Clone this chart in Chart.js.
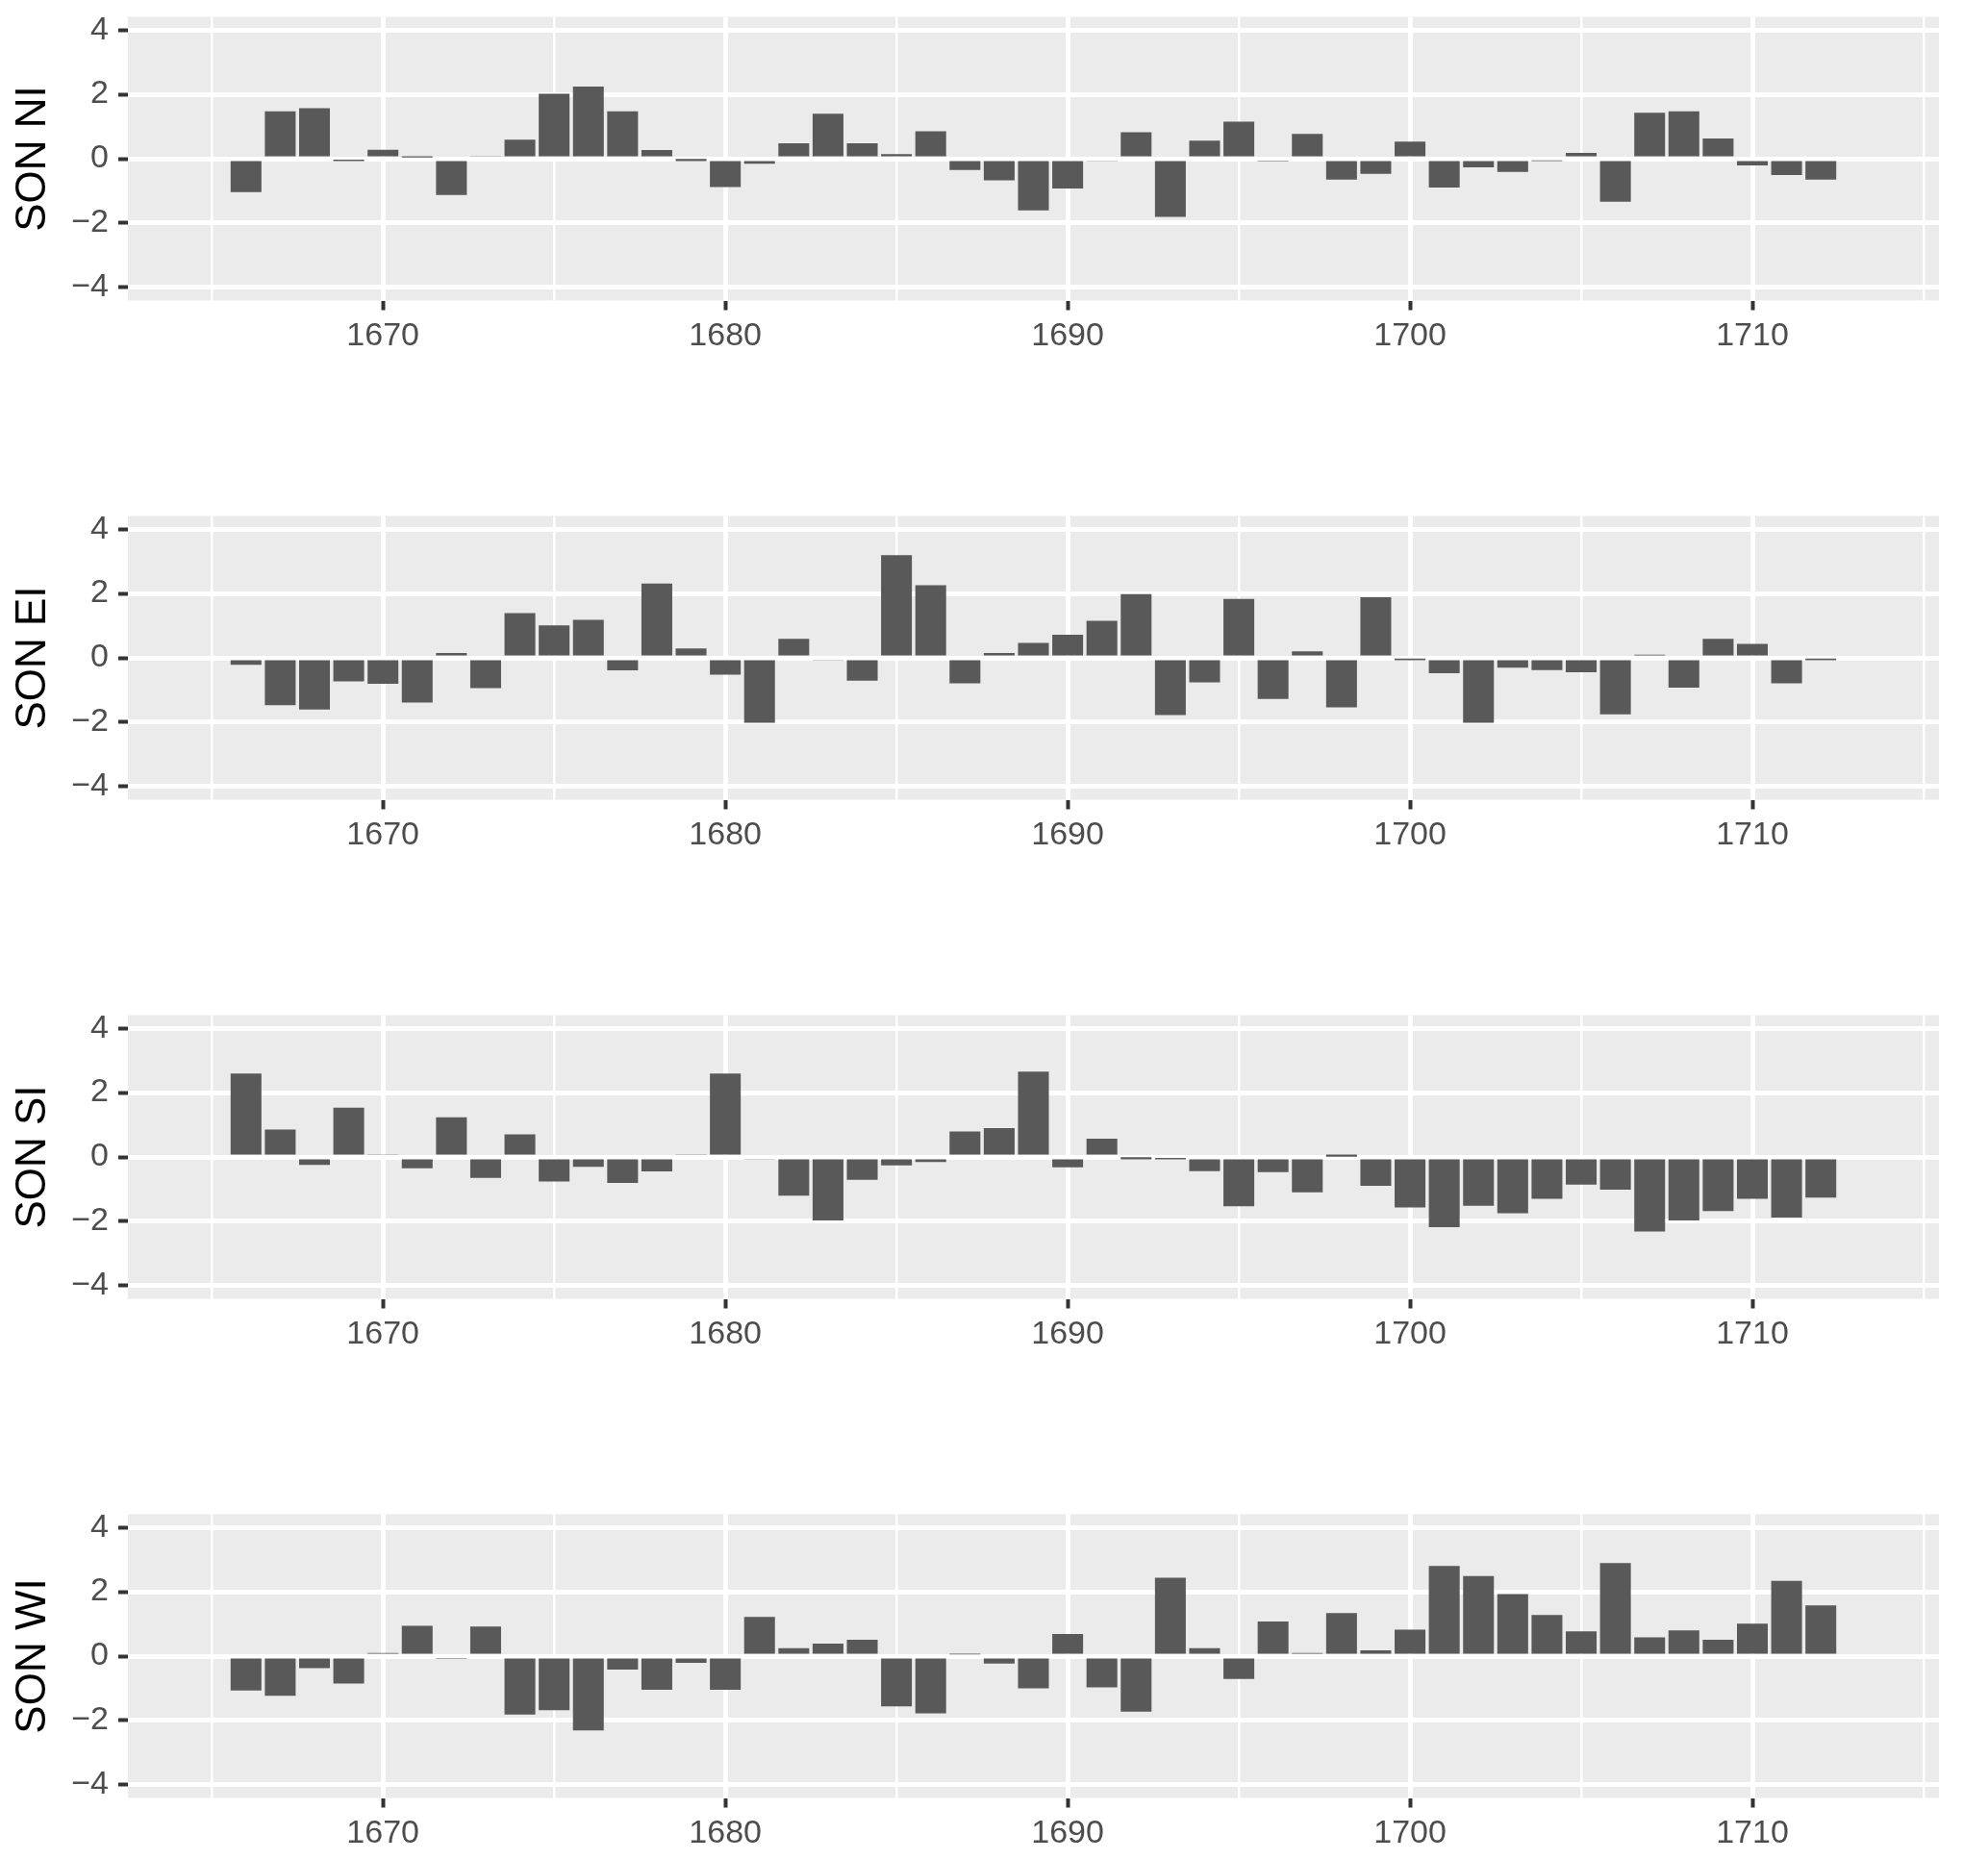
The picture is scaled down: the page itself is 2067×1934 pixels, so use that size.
<!DOCTYPE html>
<html>
<head>
<meta charset="utf-8">
<script src="https://cdn.jsdelivr.net/npm/chart.js@4/dist/chart.umd.min.js"></script>
<style>
  html, body { margin: 0; padding: 0; background: #ffffff; overflow: hidden; }
  body { width: 2067px; height: 1934px; position: relative; }
  canvas { position: absolute; left: 0; }
</style>
</head>
<body>
<canvas id="c0" width="2067" height="400" style="top:0px"></canvas>
<canvas id="c1" width="2067" height="400" style="top:519px"></canvas>
<canvas id="c2" width="2067" height="400" style="top:1038px"></canvas>
<canvas id="c3" width="2067" height="400" style="top:1557px"></canvas>
<script>
// ---------------- data ----------------
const years = [1666,1667,1668,1669,1670,1671,1672,1673,1674,1675,1676,1677,1678,1679,1680,
  1681,1682,1683,1684,1685,1686,1687,1688,1689,1690,1691,1692,1693,1694,1695,1696,1697,1698,
  1699,1700,1701,1702,1703,1704,1705,1706,1707,1708,1709,1710,1711,1712];

const sonNI = [-1.04,1.47,1.57,-0.03,0.28,0.04,-1.13,0.08,0.59,2.02,2.24,1.47,0.27,
  -0.01,-0.88,-0.16,0.48,1.40,0.48,0.14,0.85,-0.35,-0.67,-1.61,-0.93,-0.08,0.82,-1.81,0.56,1.15,-0.06,0.77,
  -0.65,-0.47,0.53,-0.90,-0.27,-0.41,-0.05,0.18,-1.34,1.43,1.47,0.63,-0.21,-0.51,-0.65];

const sonEI = [-0.22,-1.47,-1.61,-0.73,-0.81,-1.39,0.15,-0.94,1.39,1.01,1.18,-0.39,2.31,
  0.29,-0.52,-2.02,0.59,-0.07,-0.71,3.19,2.26,-0.79,0.15,0.46,0.72,1.15,1.98,-1.78,-0.76,1.83,-1.28,0.20,
  -1.54,1.88,-0.02,-0.48,-2.02,-0.31,-0.38,-0.45,-1.76,0.10,-0.93,0.59,0.43,-0.79,-0.02];

const sonSI = [2.59,0.85,-0.25,1.53,0.07,-0.35,1.23,-0.65,0.70,-0.76,-0.31,-0.81,-0.45,
  0.07,2.59,-0.08,-1.20,-1.97,-0.71,-0.26,-0.16,0.79,0.90,2.65,-0.32,0.57,-0.01,-0.03,-0.44,-1.53,-0.47,-1.10,
  0.01,-0.90,-1.57,-2.18,-1.52,-1.75,-1.30,-0.86,-1.02,-2.32,-1.97,-1.68,-1.30,-1.88,-1.26];

const sonWI = [-1.07,-1.23,-0.37,-0.85,0.10,0.94,-0.09,0.92,-1.82,-1.68,-2.31,-0.42,-1.05,
  -0.21,-1.05,1.22,0.25,0.39,0.51,-1.56,-1.78,0.05,-0.23,-1.00,0.69,-0.97,-1.73,2.44,0.25,-0.71,1.08,0.10,
  1.34,0.18,0.82,2.80,2.49,1.93,1.28,0.77,2.89,0.58,0.80,0.51,1.01,2.34,1.58];

const panelTitles = ["SON NI", "SON EI", "SON SI", "SON WI"];
const panelSeries = [sonNI, sonEI, sonSI, sonWI];

const yTickValues = [-4,-3,-2,-1,0,1,2,3,4];
const yMajorTicks = [-4,-2,0,2,4];
const xTickValues = [1665,1670,1675,1680,1685,1690,1695,1700,1705,1710,1715];
const xMajorTicks = [1670,1680,1690,1700,1710];

// ---------------- styling ----------------
const FONT = "'Liberation Sans', Arial, Helvetica, sans-serif";
const PANEL_BG = '#EBEBEB';
const BAR = '#595959';
const CANVAS_H = 400;
const PAD_TOP = 17.5;
const PANEL_H = 295;

const panelBg = {
  id: 'panelBg',
  beforeDraw(chart) {
    const {ctx, chartArea: {left, top, width, height}} = chart;
    ctx.save();
    ctx.fillStyle = PANEL_BG;
    ctx.fillRect(left, top, width, height);
    ctx.restore();
  }
};

function fmt(v) {
  return v < 0 ? '\u2212' + Math.abs(v) : String(v);
}

panelSeries.forEach((series, i) => {
  const ctx = document.getElementById('c' + i);
  new Chart(ctx, {
    type: 'bar',
    data: {
      datasets: [{
        data: years.map((yr, k) => ({x: yr, y: series[k]})),
        backgroundColor: BAR,
        borderWidth: 0,
        barPercentage: 0.9,
        categoryPercentage: 1.0
      }]
    },
    options: {
      responsive: false,
      animation: false,
      devicePixelRatio: 1,
      layout: { padding: { top: PAD_TOP, right: 51, left: 0, bottom: 0 } },
      plugins: { legend: { display: false }, tooltip: { enabled: false } },
      scales: {
        x: {
          type: 'linear',
          min: 1662.55,
          max: 1715.45,
          offset: false,
          afterBuildTicks: s => { s.ticks = xTickValues.map(v => ({value: v})); },
          afterFit: s => {
            s.height = CANVAS_H - PAD_TOP - PANEL_H;
            s.paddingLeft = 0; s.paddingRight = 0;
          },
          border: { display: false },
          grid: {
            offset: false,
            color: '#FFFFFF',
            lineWidth: c => (c.tick && xMajorTicks.includes(c.tick.value)) ? 5 : 2.5,
            drawTicks: true,
            tickLength: 10,
            tickWidth: 4,
            tickColor: c => (c.tick && xMajorTicks.includes(c.tick.value)) ? '#333333' : 'rgba(0,0,0,0)'
          },
          ticks: {
            autoSkip: false,
            maxRotation: 0,
            padding: 7,
            color: '#4D4D4D',
            font: { family: FONT, size: 34 },
            callback: v => xMajorTicks.includes(v) ? String(v) : ''
          }
        },
        y: {
          type: 'linear',
          min: -4.41,
          max: 4.41,
          afterBuildTicks: s => { s.ticks = yTickValues.map(v => ({value: v})); },
          afterFit: s => {
            s.width = 133;
            s.paddingTop = 0; s.paddingBottom = 0;
          },
          border: { display: false },
          grid: {
            color: '#FFFFFF',
            lineWidth: c => (c.tick && yMajorTicks.includes(c.tick.value)) ? 5 : 2.5,
            drawTicks: true,
            tickLength: 10,
            tickWidth: 4,
            tickColor: c => (c.tick && yMajorTicks.includes(c.tick.value)) ? '#333333' : 'rgba(0,0,0,0)'
          },
          ticks: {
            padding: 10,
            color: '#4D4D4D',
            font: { family: FONT, size: 34 },
            callback: v => yMajorTicks.includes(v) ? fmt(v) : ''
          },
          title: {
            display: true,
            text: panelTitles[i],
            color: '#000000',
            font: { family: FONT, size: 44 },
            padding: { top: 8, bottom: 0 }
          }
        }
      }
    },
    plugins: [panelBg]
  });
});
</script>
</body>
</html>
